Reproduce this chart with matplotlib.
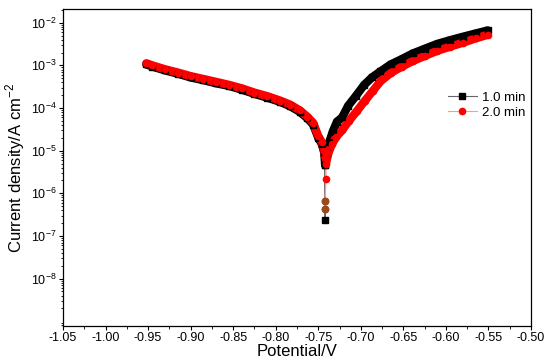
import numpy as np
import matplotlib
matplotlib.use('Agg')
import matplotlib.pyplot as plt
from matplotlib.lines import Line2D
from matplotlib.ticker import LogLocator, NullFormatter, MultipleLocator

plt.rcParams['font.family'] = ['Liberation Sans', 'DejaVu Sans']
plt.rcParams['mathtext.fontset'] = 'custom'
plt.rcParams['mathtext.rm'] = 'Liberation Sans'

# --- data (potential in V, current density in A/cm2) ---
pot_1min = [-0.952, -0.945, -0.930, -0.915, -0.900, -0.885, -0.870, -0.855, -0.840,
            -0.825, -0.810, -0.795, -0.783, -0.772, -0.763, -0.756, -0.750, -0.746,
            -0.743, -0.742, -0.742,
            -0.742, -0.740, -0.737, -0.733, -0.728, -0.722, -0.715, -0.706, -0.696,
            -0.687, -0.677, -0.665, -0.652, -0.639, -0.625, -0.610, -0.595, -0.580,
            -0.565, -0.551]
cur_1min = [1.05e-3, 9.4e-4, 7.6e-4, 6.4e-4, 5.2e-4, 4.5e-4, 3.8e-4, 3.3e-4, 2.7e-4,
            2.15e-4, 1.75e-4, 1.4e-4, 1.1e-4, 8.2e-5, 5.8e-5, 4.1e-5, 2.0e-5, 1.45e-5,
            9.0e-6, 4.7e-6, 2.4e-7,
            4.7e-6, 8.9e-6, 1.6e-5, 2.8e-5, 4.8e-5, 6.0e-5, 1.12e-4, 1.9e-4, 3.5e-4,
            5.2e-4, 7.2e-4, 1.05e-3, 1.4e-3, 1.9e-3, 2.45e-3, 3.2e-3, 3.9e-3, 4.7e-3,
            5.6e-3, 6.6e-3]

pot_2min = [-0.952, -0.945, -0.930, -0.915, -0.900, -0.885, -0.870, -0.855, -0.840,
            -0.825, -0.810, -0.795, -0.783, -0.772, -0.763, -0.756, -0.750, -0.746,
            -0.743, -0.742, -0.741, -0.742, -0.742,
            -0.741, -0.738, -0.734, -0.729, -0.722, -0.714, -0.705, -0.695, -0.686,
            -0.677, -0.665, -0.652, -0.639, -0.625, -0.610, -0.595, -0.580, -0.565,
            -0.551]
cur_2min = [1.12e-3, 1.0e-3, 8.1e-4, 6.8e-4, 5.6e-4, 4.8e-4, 4.1e-4, 3.5e-4, 2.9e-4,
            2.3e-4, 1.9e-4, 1.5e-4, 1.2e-4, 8.9e-5, 6.3e-5, 4.5e-5, 2.2e-5, 1.6e-5,
            1.0e-5, 7.1e-6, 2.2e-6, 6.5e-7, 4.2e-7,
            5.0e-6, 8.9e-6, 1.4e-5, 2.1e-5, 3.0e-5, 5.0e-5, 8.3e-5, 1.5e-4, 2.5e-4,
            4.2e-4, 6.6e-4, 9.3e-4, 1.26e-3, 1.66e-3, 2.2e-3, 2.75e-3, 3.4e-3, 4.3e-3,
            5.2e-3]

labels = ['1.0 min', '2.0 min']

fig = plt.figure(figsize=(5.5, 3.63), dpi=100)
ax = fig.add_axes([0.1145, 0.102, 0.851, 0.873])

series = [
    (pot_1min, cur_1min, 'black', '#666666', 's'),
    (pot_2min, cur_2min, 'red', '#ff9999', 'o'),
]
for pot, cur, col, thin, mk in series:
    pot = np.array(pot)
    cur = np.array(cur)
    # thin connecting line through every point
    ax.plot(pot, cur, '-', color=thin, lw=0.8, zorder=2)
    # dense marker band (points above the dip near Ecorr)
    band = np.where(cur > 4e-6, cur, np.nan)
    ax.plot(pot, band, '-', color=col, lw=6, solid_capstyle='round', zorder=3)
    ax.plot(pot, cur, mk, color=col, ms=4.5, mec=col, zorder=4)

# the lowest 2.0 min points look brownish in the original
low = np.array(cur_2min) < 1e-6
ax.plot(np.array(pot_2min)[low], np.array(cur_2min)[low], 'o', color='#9c4a1a',
        ms=4.5, zorder=5)

ax.set_yscale('log')
ax.set_xlim(-1.05, -0.50)
ax.set_ylim(10 ** -9.11, 10 ** -1.68)
ax.set_yticks([1e-8, 1e-7, 1e-6, 1e-5, 1e-4, 1e-3, 1e-2])
ax.yaxis.set_minor_locator(LogLocator(base=10, subs=np.arange(2, 10), numticks=20))
ax.yaxis.set_minor_formatter(NullFormatter())
ax.set_xticks(np.arange(-1.05, -0.499, 0.05))
ax.set_xticklabels([f'{v:.2f}' for v in np.arange(-1.05, -0.499, 0.05)])
ax.xaxis.set_minor_locator(MultipleLocator(0.025))

ax.tick_params(axis='both', which='major', direction='out', length=3, width=0.8,
               labelsize=9, pad=1.5, top=False, right=False)
ax.tick_params(axis='both', which='minor', direction='out', length=1.8, width=0.6,
               top=False, right=False)
for sp in ax.spines.values():
    sp.set_linewidth(0.9)

ax.set_xlabel('Potential/V', fontsize=12, labelpad=0)
ax.set_ylabel('Current density/A cm$^{-2}$', fontsize=12, labelpad=3)

handles = [
    Line2D([], [], color='#666666', lw=0.8, marker='s', ms=4.5, mfc='black', mec='black'),
    Line2D([], [], color='#ff9999', lw=0.8, marker='o', ms=4.5, mfc='red', mec='red'),
]
ax.legend(handles, labels, loc='upper right', bbox_to_anchor=(1.005, 0.765),
          frameon=False, fontsize=9.5, handlelength=2.2, handletextpad=0.4,
          labelspacing=0.2, borderaxespad=0.2)

fig.savefig('out.png', dpi=100)
